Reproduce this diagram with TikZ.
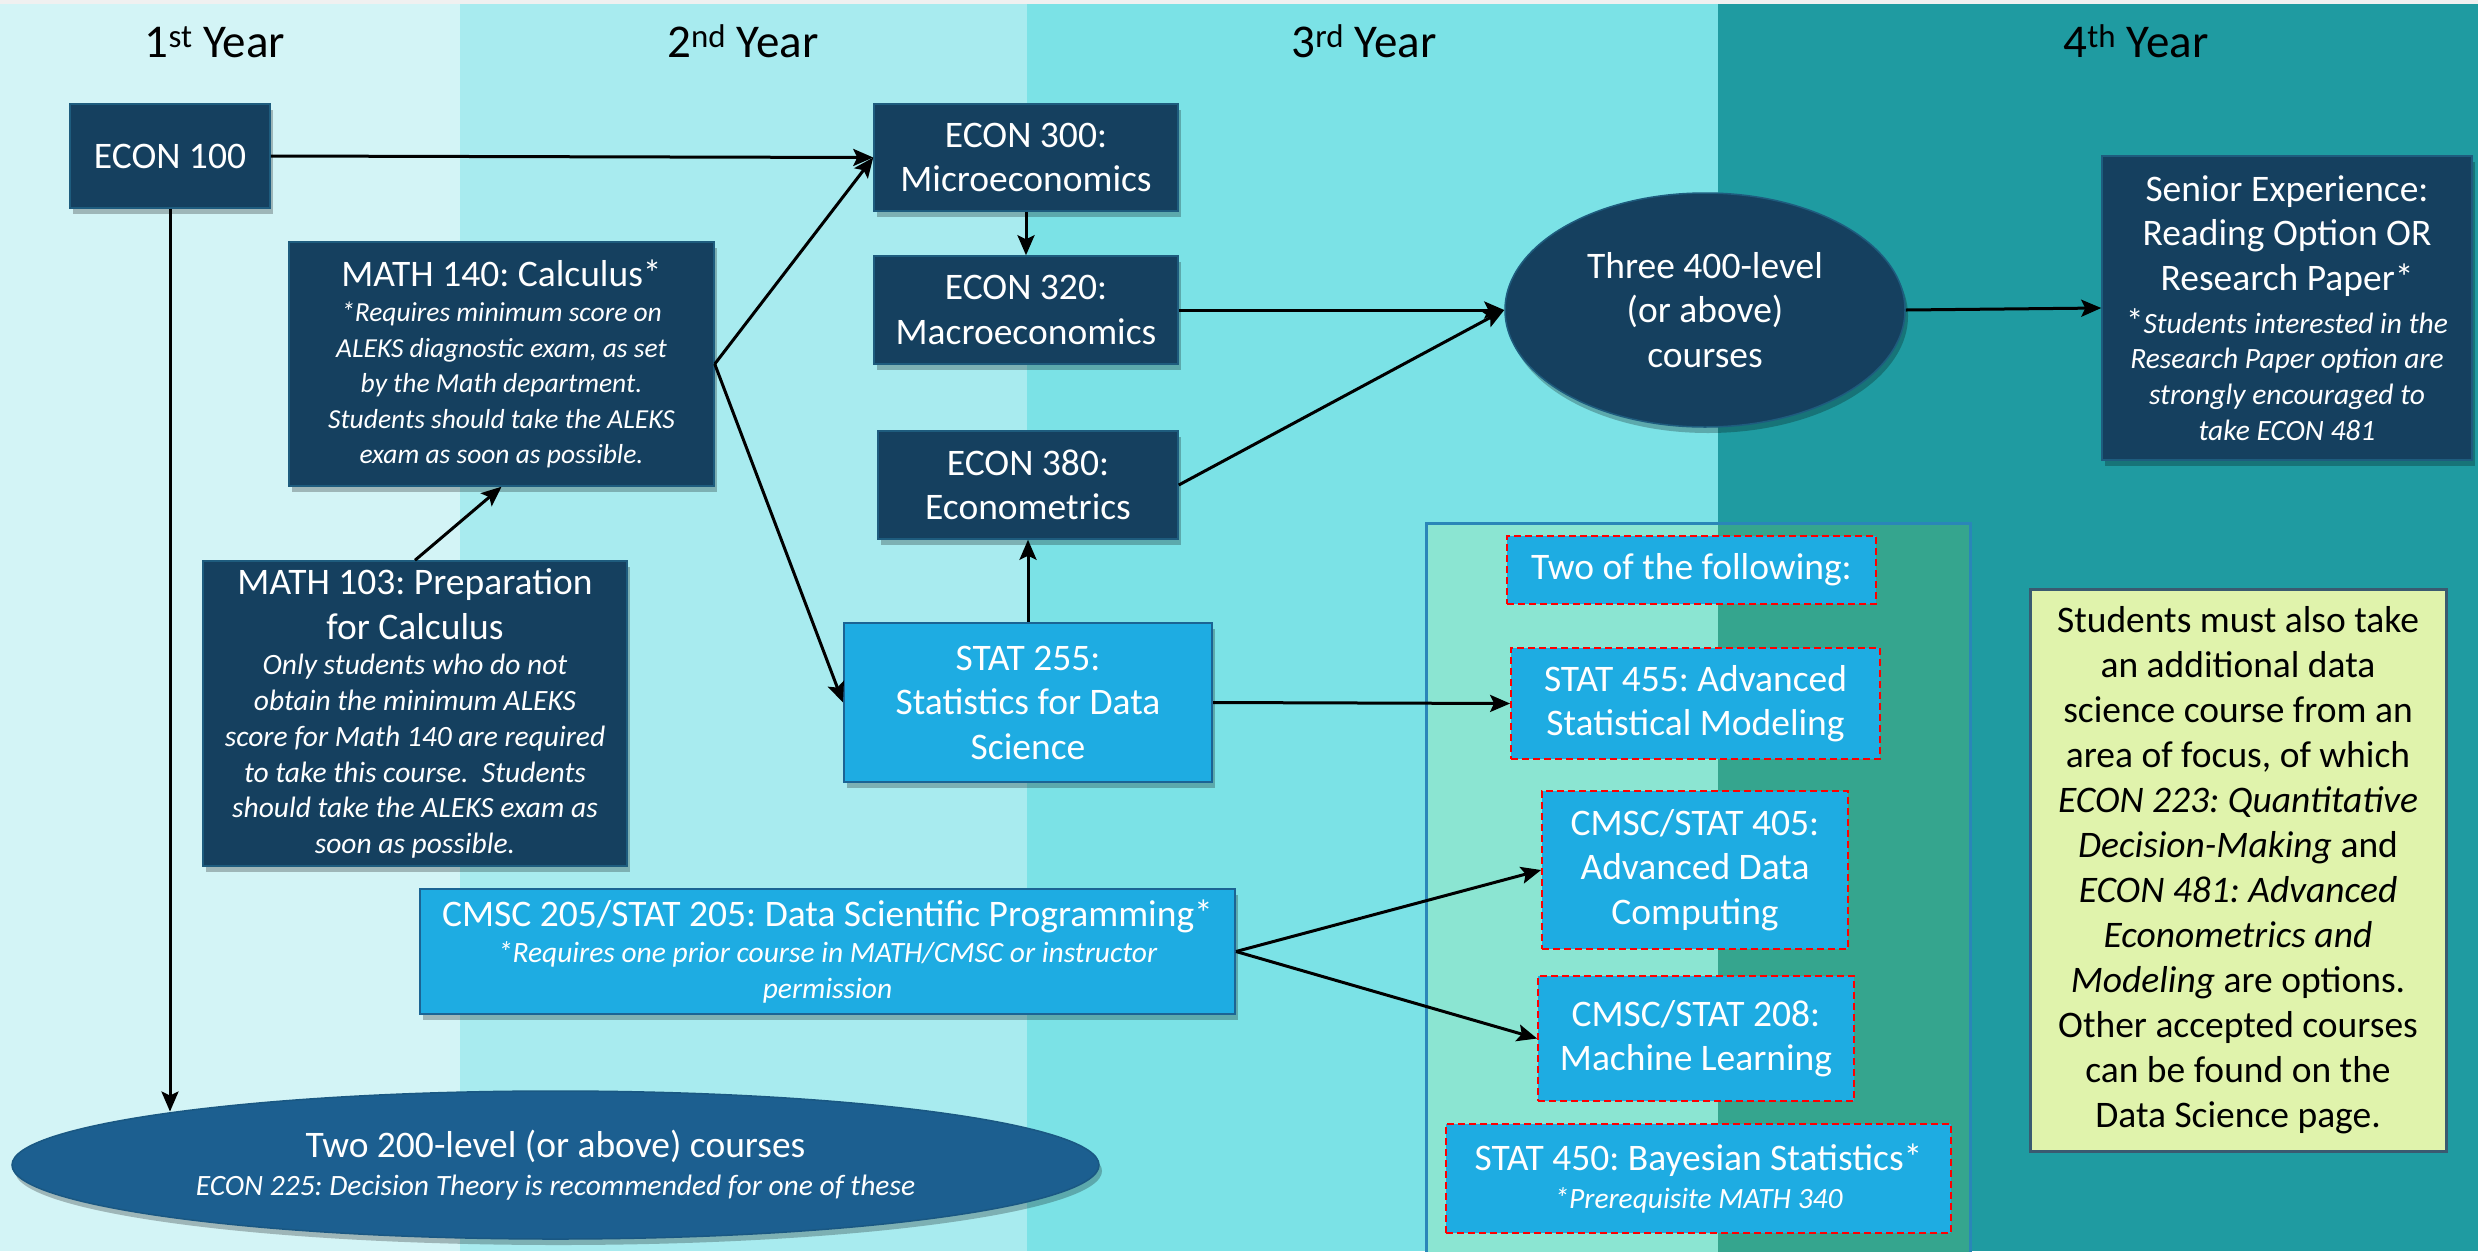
\documentclass[tikz,border=0pt]{standalone}
\usepackage{fontspec}
\setmainfont{Carlito}
\usetikzlibrary{arrows.meta,shapes.geometric,shadows}
\frenchspacing
\definecolor{colA}{HTML}{D3F4F6}
\definecolor{colB}{HTML}{A8EBEF}
\definecolor{colC}{HTML}{7BE2E6}
\definecolor{colD}{HTML}{1F9BA1}
\definecolor{navy}{HTML}{15405F}
\definecolor{navyB}{HTML}{1E5C7E}
\definecolor{sky}{HTML}{1EACE2}
\definecolor{skyB}{HTML}{1B6494}
\definecolor{ovalblue}{HTML}{1C5F90}
\definecolor{ovalB}{HTML}{1A5883}
\definecolor{greenL}{HTML}{8BE5D2}
\definecolor{greenR}{HTML}{35A58E}
\definecolor{contB}{HTML}{2A86B8}
\definecolor{yel}{HTML}{E0F3AC}
\definecolor{yelB}{HTML}{3A5A70}
\definecolor{topgray}{HTML}{F0F0F0}
\newcommand\fmain{\fontsize{37.5}{44.5}\selectfont}
\newcommand\fsml{\fontsize{29.5}{35.7}\selectfont\itshape}
\newcommand\fsmlb{\fontsize{27.5}{35.5}\selectfont\itshape}
\newcommand\fhead{\fontsize{47}{56}\selectfont}
\newcommand\nsp{\spaceskip=0pt\xspaceskip=0pt\relax}
\begin{document}
\begin{tikzpicture}[x=1pt,y=-1pt,
  shd/.style={drop shadow={shadow xshift=3pt,shadow yshift=-6pt,opacity=0.25,fill=black}},
  dbox/.style={rectangle, draw=navyB, fill=navy, line width=1.5pt, text=white, inner sep=0pt, align=flush center, shd},
  lbox/.style={rectangle, draw=skyB, fill=sky, line width=2pt, text=white, inner sep=0pt, align=flush center, shd},
  rbox/.style={rectangle, draw=red, dash pattern=on 7pt off 4pt, fill=sky, line width=1.8pt, text=white, inner sep=0pt, align=flush center},
  arr/.style={line width=3pt, -{Stealth[length=20pt,width=17pt,inset=4pt]}},
  head/.style={anchor=base, font=\fhead, text=black},
]
\clip (0,0) rectangle (2478,1251);
% year columns
\fill[colA] (0,0) rectangle (460,1251);
\fill[colB] (460,0) rectangle (1027,1251);
\fill[colC] (1027,0) rectangle (1718,1251);
\fill[colD] (1718,0) rectangle (2478,1251);
\fill[topgray] (0,0) rectangle (2478,4);
% container for electives
\fill[greenL] (1426,523) rectangle (1718,1262);
\fill[greenR] (1718,523) rectangle (1970,1262);
\draw[contB, line width=3pt] (1426,1262) -- (1426,523) -- (1970,523) -- (1970,1262);

% headers
\node[head] (h1) at (215,57) {1\textsuperscript{st} Year};
\node[head] (h2) at (743,57) {2\textsuperscript{nd} Year};
\node[head] (h3) at (1364,57) {3\textsuperscript{rd} Year};
\node[head] (h4) at (2136,57) {4\textsuperscript{th} Year};

% dark boxes
\node[dbox, font=\fmain, minimum width=200pt, minimum height=104pt] (econ100) at (170,156) {ECON 100};
\node[dbox, font=\fmain, minimum width=304pt, minimum height=107pt] (econ300) at (1026,157.5) {ECON 300:\\Microeconomics};
\node[dbox, font=\fmain, minimum width=304pt, minimum height=108pt] (econ320) at (1026,310) {ECON 320:\\Macroeconomics};
\node[dbox, font=\fmain, minimum width=300pt, minimum height=108pt] (econ380) at (1028,485) {ECON 380:\\Econometrics};
\node[dbox, minimum width=425pt, minimum height=244pt, text width=415pt] (math140) at (501.5,364)
  {\nsp{\fmain\nsp MATH 140: Calculus*\par}{\fsmlb\nsp *Requires minimum score on\\ALEKS diagnostic exam, as set\\by the Math department.\\Students should take the ALEKS\\exam as soon as possible.\par}};
\node[dbox, minimum width=424pt, minimum height=305pt, text width=414pt] (math103) at (415,713.5)
  {\nsp{\fmain\nsp MATH 103: Preparation\\for Calculus\par}{\fsml\nsp Only students who do not\\obtain the minimum ALEKS\\score for Math 140 are required\\to take this course.\ \ Students\\should take the ALEKS exam as\\soon as possible.\par}};
\node[dbox, minimum width=370pt, minimum height=304pt, text width=360pt] (senior) at (2287,308)
  {\nsp{\fmain\nsp Senior Experience:\\Reading Option OR\\Research Paper*\par}\vspace{7pt}{\fsml\nsp {\upshape\fontsize{35}{35.7}\selectfont *}Students interested in the\\Research Paper option are\\strongly encouraged to\\take ECON 481\par}};
\node[ellipse, draw=navyB, fill=navy, line width=1.5pt, text=white, inner sep=0pt, align=center, shd, font=\fmain,
  minimum width=400pt, minimum height=234pt] (three) at (1705,310) {Three 400-level\\(or above)\\courses};

% light blue boxes
\node[lbox, font=\fmain, minimum width=368pt, minimum height=159pt] (stat255) at (1028,702.5) {STAT 255:\\Statistics for Data\\Science};
\node[lbox, minimum width=815pt, minimum height=125pt, text width=805pt] (cmsc205) at (827.5,951.5)
  {\nsp{\fmain\nsp CMSC 205/STAT 205: Data Scientific Programming*\par}{\fsml\nsp *Requires one prior course in MATH/CMSC or instructor\\permission\par}};
\node[ellipse, draw=ovalB, fill=ovalblue, line width=1.5pt, text=white, inner sep=0pt, align=flush center, shd,
  minimum width=1087pt, minimum height=148pt, text width=760pt] (twoel) at (555.5,1165)
  {\nsp{\fmain\nsp Two 200-level (or above) courses\par}{\fontsize{29.5}{38}\selectfont\itshape\nsp ECON 225: Decision Theory is recommended for one of these\par}};

% electives
\node[rbox, font=\fmain, minimum width=369pt, minimum height=68pt] (twoof) at (1691.5,570) {Two of the following:};
\node[rbox, font=\fmain, minimum width=369pt, minimum height=111pt] (stat455) at (1695.5,703.5) {STAT 455: Advanced\\Statistical Modeling};
\node[rbox, font=\fmain, minimum width=306pt, minimum height=158pt] (cmsc405) at (1695,870) {CMSC/STAT 405:\\Advanced Data\\Computing};
\node[rbox, font=\fmain, minimum width=316pt, minimum height=125pt] (cmsc208) at (1696,1038.5) {CMSC/STAT 208:\\Machine Learning};
\node[rbox, minimum width=505pt, minimum height=109pt, text width=495pt] (stat450) at (1698.5,1178.5)
  {\nsp{\fmain\nsp STAT 450: Bayesian Statistics*\par}{\fontsize{29.5}{38}\selectfont\itshape\nsp *Prerequisite MATH 340\par}};

% note box
\node[rectangle, draw=yelB, fill=yel, line width=3pt, text=black, inner sep=0pt, align=center,
  font=\fontsize{37.5}{45}\selectfont, minimum width=416pt, minimum height=562pt] (note) at (2238,870)
  {Students must also take\\an additional data\\science course from an\\area of focus, of which\\\textit{ECON 223: Quantitative}\\\textit{Decision-Making} and\\\textit{ECON 481: Advanced}\\\textit{Econometrics and}\\\textit{Modeling} are options.\\Other accepted courses\\can be found on the\\Data Science page.};

% connectors
\draw[arr] (econ100.east) -- (econ300.west);
\draw[arr] (math140.east) -- (econ300.west);
\draw[arr] (math140.east) -- (stat255.west);
\draw[arr] (math103.north) -- (math140.south);
\draw[arr] (econ300.south) -- (econ320.north);
\draw[arr] (stat255.north) -- (econ380.south);
\draw[arr] (econ320.east) -- (three.west);
\draw[arr] (econ380.east) -- (three.west);
\draw[arr] (three.east) -- (senior.west);
\draw[arr] (stat255.east) -- (stat455.west);
\draw[arr] (cmsc205.east) -- (cmsc405.west);
\draw[arr] (cmsc205.east) -- (cmsc208.west);
\draw[arr] (econ100.south) -- (econ100.south |- twoel.172.3);
\end{tikzpicture}
\end{document}
